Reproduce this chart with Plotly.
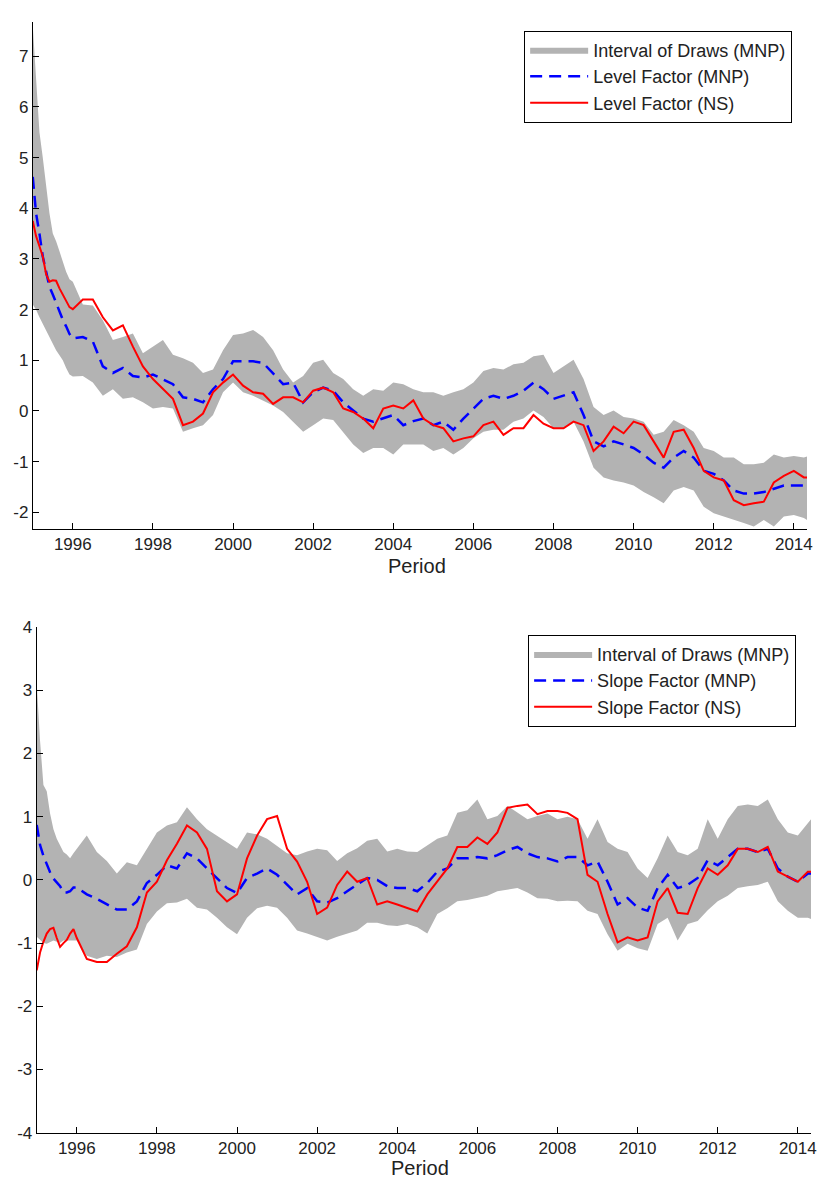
import plotly.graph_objects as go

# time index (decimal years): monthly through 1995, quarterly afterwards
period = [1995.0, 1995.083, 1995.167, 1995.25, 1995.333, 1995.417, 1995.5, 1995.583, 1995.667, 1995.75, 1995.833, 1995.917,
          1996.0, 1996.25, 1996.5, 1996.75, 1997.0, 1997.25, 1997.5, 1997.75,
          1998.0, 1998.25, 1998.5, 1998.75, 1999.0, 1999.25, 1999.5, 1999.75,
          2000.0, 2000.25, 2000.5, 2000.75, 2001.0, 2001.25, 2001.5, 2001.75,
          2002.0, 2002.25, 2002.5, 2002.75, 2003.0, 2003.25, 2003.5, 2003.75,
          2004.0, 2004.25, 2004.5, 2004.75, 2005.0, 2005.25, 2005.5, 2005.75,
          2006.0, 2006.25, 2006.5, 2006.75, 2007.0, 2007.25, 2007.5, 2007.75,
          2008.0, 2008.25, 2008.5, 2008.75, 2009.0, 2009.25, 2009.5, 2009.75,
          2010.0, 2010.25, 2010.5, 2010.75, 2011.0, 2011.25, 2011.5, 2011.75,
          2012.0, 2012.25, 2012.5, 2012.75, 2013.0, 2013.25, 2013.5, 2013.75,
          2014.0, 2014.25, 2014.33]

# ---- Level factor panel ----
level_upper = [7.6, 6.6, 5.5, 5.0, 4.4, 3.9, 3.5, 3.35, 3.15, 2.95, 2.75, 2.6,
               2.55, 2.1, 2.08, 1.79, 1.4, 1.46, 1.53, 1.14,
               1.27, 1.4, 1.11, 1.04, 0.95, 0.75, 0.82, 1.2,
               1.5, 1.53, 1.6, 1.46, 1.2, 0.82, 0.56, 0.69,
               0.95, 1.01, 0.75, 0.63, 0.43, 0.3, 0.43, 0.4,
               0.56, 0.53, 0.43, 0.37, 0.37, 0.3, 0.37, 0.43,
               0.56, 0.79, 0.85, 0.82, 0.92, 0.95, 1.08, 1.11,
               0.75, 0.88, 1.01, 0.63, 0.08, -0.08, 0.01, -0.12,
               -0.15, -0.21, -0.47, -0.41, -0.18, -0.28, -0.41, -0.73,
               -0.79, -0.92, -0.92, -1.05, -1.05, -1.02, -0.86, -0.92,
               -0.89, -0.92, -0.9]
level_lower = [2.1, 2.0, 1.85, 1.72, 1.6, 1.45, 1.33, 1.2, 1.1, 1.0, 0.85, 0.72,
               0.68, 0.69, 0.56, 0.3, 0.43, 0.24, 0.27, 0.17,
               0.05, 0.08, 0.05, -0.41, -0.34, -0.28, -0.08, 0.37,
               0.56, 0.37, 0.3, 0.21, 0.11, -0.02, -0.21, -0.41,
               -0.28, -0.15, -0.18, -0.41, -0.66, -0.83, -0.73, -0.73,
               -0.86, -0.66, -0.66, -0.66, -0.79, -0.73, -0.86, -0.73,
               -0.54, -0.41, -0.37, -0.37, -0.21, -0.15, 0.01, -0.12,
               -0.34, -0.34, -0.21, -0.6, -1.12, -1.31, -1.37, -1.41,
               -1.47, -1.6, -1.7, -1.82, -1.57, -1.5, -1.57, -1.89,
               -2.02, -2.08, -2.15, -2.21, -2.28, -2.15, -2.28, -2.08,
               -2.05, -2.11, -2.15]
level_mnp = [4.62, 3.9, 3.5, 3.05, 2.75, 2.45, 2.3, 2.12, 1.95, 1.8, 1.67, 1.52,
             1.43, 1.46, 1.37, 0.88, 0.75, 0.85, 0.69, 0.66,
             0.72, 0.63, 0.53, 0.27, 0.24, 0.17, 0.43, 0.63,
             0.98, 0.98, 0.98, 0.95, 0.75, 0.53, 0.56, 0.17,
             0.37, 0.46, 0.4, 0.17, 0.01, -0.15, -0.21, -0.15,
             -0.08, -0.28, -0.2, -0.15, -0.28, -0.21, -0.37, -0.15,
             0.05, 0.24, 0.3, 0.24, 0.3, 0.4, 0.56, 0.43,
             0.24, 0.3, 0.37, -0.08, -0.6, -0.7, -0.6, -0.66,
             -0.73, -0.86, -1.02, -1.12, -0.92, -0.79, -0.92, -1.18,
             -1.24, -1.37, -1.57, -1.63, -1.63, -1.6, -1.53, -1.47,
             -1.47, -1.47, -1.5]
level_ns = [3.75, 3.45, 3.25, 3.05, 2.7, 2.55, 2.58, 2.57, 2.42, 2.3, 2.15, 2.05,
            2.01, 2.2, 2.2, 1.85, 1.59, 1.69, 1.27, 0.88,
            0.63, 0.43, 0.24, -0.28, -0.21, -0.05, 0.37, 0.56,
            0.72, 0.5, 0.37, 0.34, 0.14, 0.27, 0.27, 0.17,
            0.4, 0.46, 0.37, 0.05, -0.02, -0.15, -0.34, 0.05,
            0.11, 0.05, 0.21, -0.15, -0.28, -0.34, -0.6, -0.54,
            -0.5, -0.28, -0.21, -0.47, -0.34, -0.34, -0.08, -0.25,
            -0.34, -0.34, -0.21, -0.28, -0.79, -0.6, -0.31, -0.44,
            -0.21, -0.28, -0.6, -0.92, -0.41, -0.37, -0.73, -1.18,
            -1.31, -1.37, -1.76, -1.86, -1.82, -1.79, -1.41, -1.28,
            -1.18, -1.31, -1.31]

# ---- Slope factor panel ----
slope_upper = [3.1, 2.2, 1.5, 1.4, 1.05, 0.8, 0.65, 0.55, 0.44, 0.4, 0.34, 0.42,
               0.49, 0.7, 0.44, 0.3, 0.1, 0.28, 0.23, 0.5,
               0.75, 0.86, 0.91, 1.15, 0.96, 0.8, 0.7, 0.6,
               0.49, 0.75, 0.72, 0.65, 0.54, 0.42, 0.39, 0.45,
               0.49, 0.47, 0.3, 0.42, 0.5, 0.62, 0.65, 0.45,
               0.49, 0.45, 0.44, 0.55, 0.65, 0.7, 1.06, 1.1,
               1.27, 0.96, 1.01, 1.17, 1.06, 0.96, 1.01, 1.05,
               0.96, 1.0, 0.96, 0.65, 0.96, 0.6, 0.49, 0.44,
               0.18, 0.03, 0.34, 0.7, 0.44, 0.39, 0.49, 0.96,
               0.65, 0.96, 1.17, 1.19, 1.17, 1.27, 0.96, 0.75,
               0.7, 0.9, 0.96]
slope_lower = [-0.9, -0.95, -1.0, -1.01, -0.98, -0.96, -0.98, -1.0, -0.96, -0.96, -0.96, -0.96,
               -0.96, -1.2, -1.25, -1.2, -1.22, -1.15, -1.1, -0.7,
               -0.5, -0.37, -0.36, -0.3, -0.44, -0.47, -0.6, -0.75,
               -0.86, -0.6, -0.45, -0.41, -0.44, -0.6, -0.8, -0.85,
               -0.9, -0.96, -0.9, -0.85, -0.8, -0.68, -0.68, -0.72,
               -0.73, -0.7, -0.75, -0.85, -0.54, -0.45, -0.34, -0.32,
               -0.29, -0.25, -0.18, -0.15, -0.13, -0.2, -0.29, -0.3,
               -0.34, -0.33, -0.34, -0.49, -0.54, -0.86, -1.12, -1.01,
               -1.08, -1.12, -0.7, -0.6, -0.96, -0.7, -0.65, -0.48,
               -0.34, -0.25, -0.13, -0.1, -0.08, -0.03, -0.34, -0.49,
               -0.6, -0.6, -0.62]
slope_mnp = [0.87, 0.55, 0.38, 0.25, 0.12, 0.02, -0.05, -0.1, -0.2, -0.2, -0.18, -0.12,
             -0.12, -0.23, -0.3, -0.39, -0.47, -0.47, -0.34, -0.05,
             0.08, 0.23, 0.18, 0.42, 0.34, 0.18, 0.03, -0.13,
             -0.21, 0.03, 0.1, 0.18, 0.08, -0.08, -0.23, -0.13,
             -0.34, -0.36, -0.29, -0.18, -0.08, 0.03, 0.0, -0.1,
             -0.13, -0.13, -0.18, -0.05, 0.13, 0.18, 0.34, 0.34,
             0.36, 0.34, 0.39, 0.47, 0.52, 0.42, 0.36, 0.34,
             0.29, 0.36, 0.36, 0.23, 0.29, -0.03, -0.39, -0.29,
             -0.44, -0.49, -0.13, 0.08, -0.13, -0.08, 0.03, 0.31,
             0.23, 0.36, 0.49, 0.49, 0.44, 0.49, 0.18, 0.05,
             -0.03, 0.1, 0.1]
slope_ns = [-1.43, -1.15, -0.98, -0.85, -0.78, -0.76, -0.92, -1.06, -1.0, -0.95, -0.85, -0.78,
            -0.92, -1.25, -1.3, -1.3, -1.17, -1.05, -0.75, -0.2,
            -0.03, 0.31, 0.57, 0.86, 0.75, 0.49, -0.18, -0.34,
            -0.23, 0.34, 0.7, 0.96, 1.01, 0.49, 0.29, -0.03,
            -0.54, -0.44, -0.08, 0.13, -0.03, 0.03, -0.39, -0.34,
            -0.39, -0.44, -0.5, -0.23, -0.03, 0.18, 0.52, 0.52,
            0.67, 0.57, 0.75, 1.14, 1.17, 1.19, 1.04, 1.09,
            1.09, 1.06, 0.96, 0.08, -0.03, -0.54, -0.99, -0.91,
            -0.96, -0.91, -0.34, -0.13, -0.52, -0.54, -0.13, 0.18,
            0.08, 0.23, 0.49, 0.49, 0.44, 0.52, 0.13, 0.05,
            -0.03, 0.13, 0.13]

year_ticks = [1996, 1998, 2000, 2002, 2004, 2006, 2008, 2010, 2012, 2014]
year_labels = [str(y) for y in year_ticks]
level_ticks = [-2, -1, 0, 1, 2, 3, 4, 5, 6, 7]
slope_ticks = [-4, -3, -2, -1, 0, 1, 2, 3, 4]

GRAY = '#b3b3b3'
BLUE = '#0000ff'
RED = '#ff0000'
FONT = 'Liberation Sans, Arial, sans-serif'
TXT = '#222222'

fig = go.Figure()

panels = [
    (level_upper, level_lower, level_mnp, level_ns, 'Level Factor', 'x', 'y', 'legend'),
    (slope_upper, slope_lower, slope_mnp, slope_ns, 'Slope Factor', 'x2', 'y2', 'legend2'),
]
for up, lo, mnp, ns, label, xa, ya, lg in panels:
    fig.add_trace(go.Scatter(x=period, y=up, mode='lines', line=dict(width=0, color=GRAY),
                             showlegend=False, hoverinfo='skip', xaxis=xa, yaxis=ya, legend=lg))
    fig.add_trace(go.Scatter(x=period, y=lo, mode='lines', line=dict(width=0, color=GRAY),
                             fill='tonexty', fillcolor=GRAY, name='Interval of Draws (MNP)',
                             xaxis=xa, yaxis=ya, legend=lg))
    fig.add_trace(go.Scatter(x=period, y=mnp, mode='lines',
                             line=dict(color=BLUE, width=2.5, dash='12px,7px'),
                             name=label + ' (MNP)', xaxis=xa, yaxis=ya, legend=lg))
    fig.add_trace(go.Scatter(x=period, y=ns, mode='lines', line=dict(color=RED, width=2),
                             name=label + ' (NS)', xaxis=xa, yaxis=ya, legend=lg))

W, H = 823, 1189
axis_common = dict(showline=True, linecolor='black', linewidth=1, ticks='inside', ticklen=6,
                   tickcolor='black', showgrid=False, zeroline=False,
                   tickfont=dict(family=FONT, size=17, color=TXT))

legend_common = dict(xanchor='left', yanchor='top', traceorder='normal',
                     bordercolor='black', borderwidth=1, bgcolor='white',
                     font=dict(family=FONT, size=18, color=TXT), itemwidth=58,
                     tracegroupgap=0)

fig.update_layout(
    width=W, height=H, margin=dict(l=0, r=0, t=0, b=0, pad=0),
    paper_bgcolor='white', plot_bgcolor='white',
    xaxis=dict(domain=[33 / W, 813 / W], range=[1995.0, 2014.33], anchor='y',
               tickvals=year_ticks, ticktext=year_labels, **axis_common),
    yaxis=dict(domain=[1 - 528 / H, 1 - 13 / H], range=[-2.32, 7.68], anchor='x',
               tickvals=level_ticks, ticktext=[str(v) for v in level_ticks], **axis_common),
    xaxis2=dict(domain=[37 / W, 817 / W], range=[1995.0, 2014.33], anchor='y2',
                tickvals=year_ticks, ticktext=year_labels, **axis_common),
    yaxis2=dict(domain=[1 - 1142 / H, 1 - 628 / H], range=[-4, 4], anchor='x2',
                tickvals=slope_ticks, ticktext=[str(v) for v in slope_ticks], **axis_common),
    legend=dict(x=528 / W, y=1 - 22 / H, **legend_common),
    legend2=dict(x=532 / W, y=1 - 636 / H, **legend_common),
    showlegend=True,
    annotations=[
        dict(text='Period', x=420 / W, y=1 - 566 / H, xref='paper', yref='paper',
             xanchor='center', yanchor='middle', showarrow=False,
             font=dict(family=FONT, size=20, color=TXT)),
        dict(text='Period', x=423 / W, y=1 - 1178 / H, xref='paper', yref='paper',
             xanchor='center', yanchor='middle', showarrow=False,
             font=dict(family=FONT, size=20, color=TXT)),
    ],
)

fig.write_html('out.html')
